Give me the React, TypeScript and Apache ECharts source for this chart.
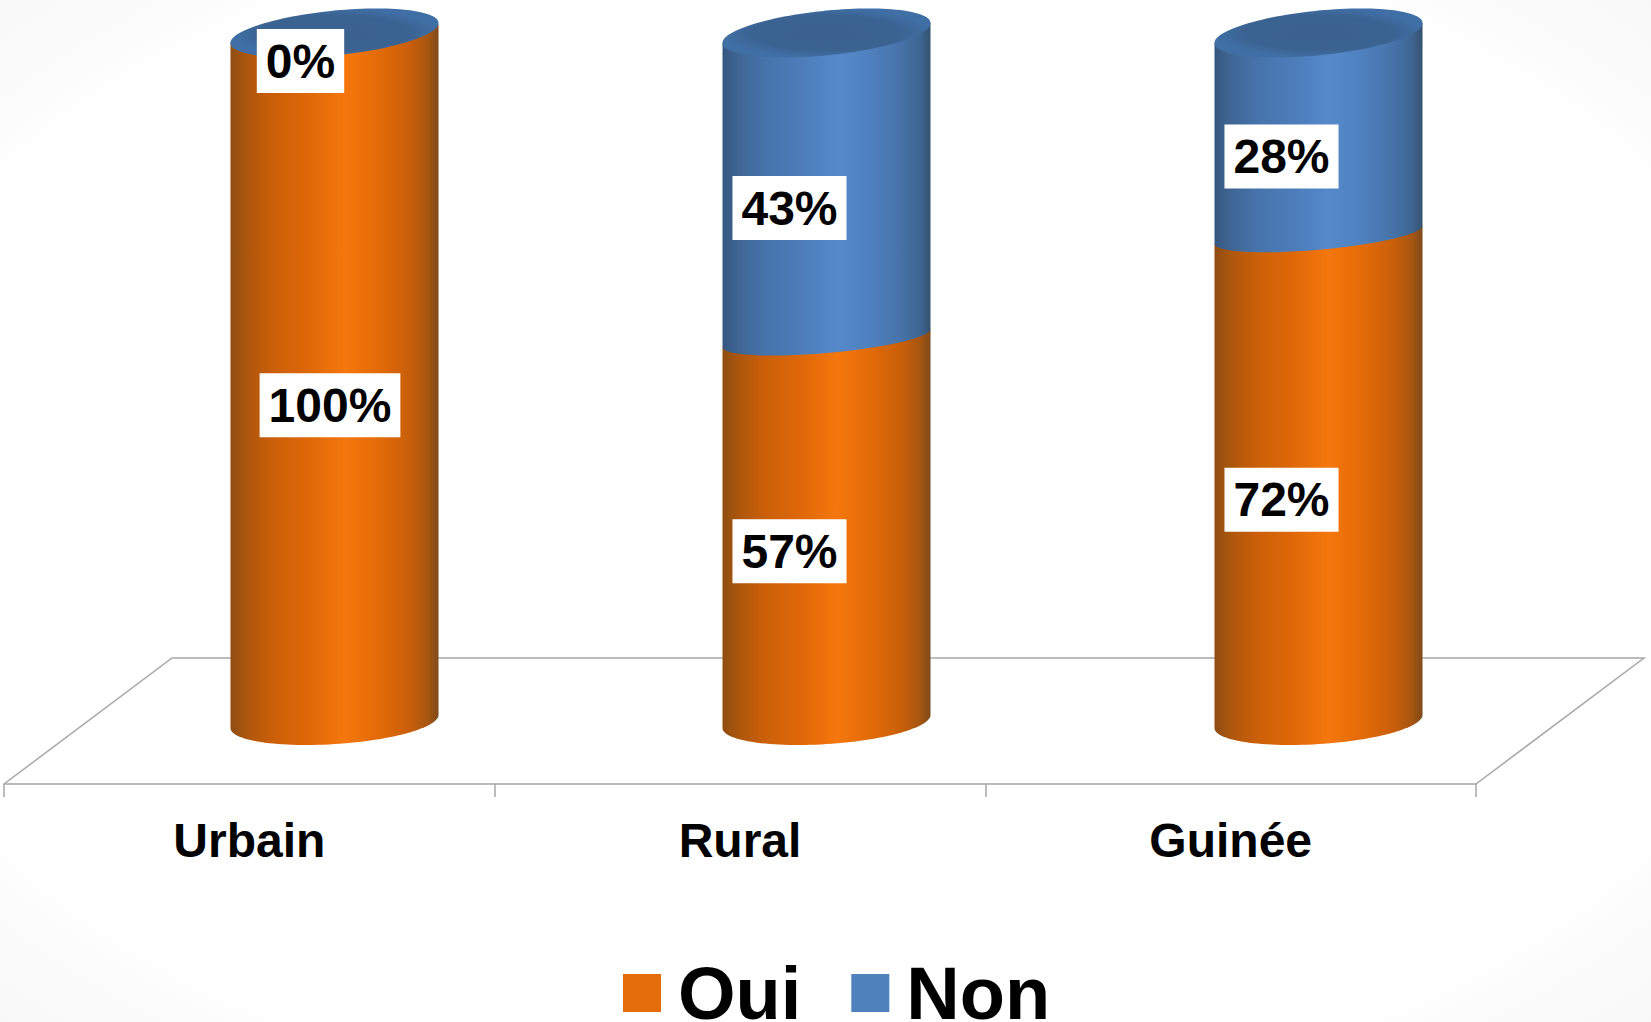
import React, { useEffect, useRef } from "react";
import * as echarts from "echarts";

const categories = ["Urbain", "Rural", "Guinée"];
const ouiValues = [100, 57, 72];
const nonValues = [0, 43, 28];
const seriesNames = ["Oui", "Non"];

const FONT = '"Liberation Sans", Arial, sans-serif';
const HALF_WIDTH = 104;
const SPLIT_DROP = 9;
const SPLIT_B = 15;
const labelShiftOui = [-4.5, -37, -37];
const labelDropOui = [28, 26, 26];
const labelShiftNon = [-34, -37, -37];
const labelDropNon = [28, 27, 27];

const orangeStops = [
  [0, "#8f4d12"], [0.08, "#ad560c"], [0.2, "#cb5f09"], [0.38, "#df6808"],
  [0.55, "#f5770d"], [0.72, "#e26a08"], [0.86, "#c95f0a"], [0.95, "#a65610"], [1, "#7f4a1c"],
];
const blueStops = [
  [0, "#35577f"], [0.08, "#3f6695"], [0.2, "#4673aa"], [0.38, "#4c7dba"],
  [0.55, "#5589ca"], [0.72, "#4e80be"], [0.86, "#4672a8"], [0.95, "#3e6592"], [1, "#33536f"],
];
const grad = (stops: any[]) =>
  new echarts.graphic.LinearGradient(0, 0, 1, 0, stops.map(([offset, color]) => ({ offset, color })));

const ellipsePoint = (cx: number, cy: number, b: number, k: number, t: number) => [
  cx + HALF_WIDTH * Math.cos(t),
  cy + b * Math.sin(t) - k * Math.cos(t),
];
// front half of a sheared ellipse, from right (t=0) to left (t=PI)
const frontArc = (cx: number, cy: number, b: number, k: number) => {
  const pts: number[][] = [];
  for (let i = 0; i <= 60; i++) pts.push(ellipsePoint(cx, cy, b, k, (Math.PI * i) / 60));
  return pts;
};
const fullEllipse = (cx: number, cy: number, b: number, k: number) => {
  const pts: number[][] = [];
  for (let i = 0; i < 120; i++) pts.push(ellipsePoint(cx, cy, b, k, (2 * Math.PI * i) / 120));
  return pts;
};

const labelText = (text: string, x: number, y: number) => ({
  type: "text",
  z2: 50,
  style: {
    text, x, y,
    align: "center",
    verticalAlign: "middle",
    font: `bold 48px ${FONT}`,
    lineHeight: 46,
    fill: "#000",
    backgroundColor: "#fff",
    padding: [9, 9, 9, 9],
  },
});

const renderOui = (params: any, api: any) => {
  const i = api.value(0);
  const v = api.value(1);
  const [cx, y0] = api.coord([i, 0]);
  const [, yv] = api.coord([i, v]);
  const yMid = api.coord([i, v / 2])[1];
  const top = v < 100 ? yv + SPLIT_DROP : yv;
  const bottomArc = frontArc(cx, y0, 22.6, 6.5).reverse(); // left to right
  const points = [
    ...bottomArc,
    [cx + HALF_WIDTH, top - 9],
    [cx - HALF_WIDTH, top + 9],
  ];
  return {
    type: "group",
    children: [
      { type: "polygon", shape: { points }, style: { fill: grad(orangeStops) } },
      labelText(`${v}%`, cx + labelShiftOui[i], yMid + labelDropOui[i]),
    ],
  };
};

const renderNon = (params: any, api: any) => {
  const i = api.value(0);
  const v = api.value(1);
  const base = ouiValues[i];
  const [cx, yb] = api.coord([i, base]);
  const [, yt] = api.coord([i, base + v]);
  const yMid = api.coord([i, base + v / 2])[1];
  const children: any[] = [];
  if (v > 0) {
    const split = yb + SPLIT_DROP;
    const points = [
      [cx + HALF_WIDTH, yt - 10],
      ...frontArc(cx, split, SPLIT_B, 9),
      [cx - HALF_WIDTH, yt + 10],
    ];
    children.push({ type: "polygon", shape: { points }, style: { fill: grad(blueStops) } });
  }
  children.push({
    type: "polygon",
    shape: { points: fullEllipse(cx, yt, 22.4, 10) },
    style: {
      fill: new echarts.graphic.RadialGradient(0.5, 0.5, 0.5, [
        { offset: 0, color: "#3a618f" },
        { offset: 0.72, color: "#3b6392" },
        { offset: 1, color: "#406fa6" },
      ]),
    },
  });
  children.push(labelText(`${v}%`, cx + labelShiftNon[i], yMid + labelDropNon[i]));
  return { type: "group", children };
};

export default function App() {
  const ref = useRef<HTMLDivElement>(null);
  useEffect(() => {
    document.body.style.margin = "0";
    const chart = echarts.init(ref.current!, undefined, { renderer: "svg" });
    chart.setOption({
      animation: false,
      backgroundColor: {
        type: "radial", x: 0.5, y: 0.5, r: 0.95,
        colorStops: [
          { offset: 0, color: "#ffffff" },
          { offset: 0.6, color: "#ffffff" },
          { offset: 1, color: "#ececec" },
        ],
      },
      legend: {
        data: seriesNames,
        left: 623,
        top: 953.5,
        icon: "rect",
        itemWidth: 38,
        itemHeight: 38,
        itemGap: 50,
        padding: 0,
        selectedMode: false,
        textStyle: {
          fontFamily: FONT, fontWeight: "bold", fontSize: 74, color: "#000",
          lineHeight: 54, padding: [0, 0, 25, 12],
        },
      },
      grid: [
        { left: 4, width: 1472, top: 100, height: 684 },
        { left: 88.5, width: 1476, top: 33, height: 688.5 },
      ],
      xAxis: [
        {
          gridIndex: 0, type: "category", data: categories, boundaryGap: true,
          axisLine: { show: true, lineStyle: { color: "#a6a6a6", width: 1.5 } },
          axisTick: { show: true, length: 13, alignWithLabel: false, lineStyle: { color: "#a6a6a6", width: 1.5 } },
          axisLabel: { margin: 32, fontFamily: FONT, fontWeight: "bold", fontSize: 48, color: "#000" },
        },
        { gridIndex: 1, type: "category", data: categories, show: false },
      ],
      yAxis: [
        { gridIndex: 0, type: "value", min: 0, max: 100, show: false },
        { gridIndex: 1, type: "value", min: 0, max: 100, show: false },
      ],
      graphic: {
        elements: [
          {
            type: "polyline", z: -1, silent: true,
            shape: { points: [[4, 784], [172, 658], [1644, 658], [1476, 784]] },
            style: { stroke: "#a6a6a6", lineWidth: 1.5, fill: "none" },
          },
        ],
      },
      series: [
        {
          name: "Oui", type: "custom", coordinateSystem: "cartesian2d",
          xAxisIndex: 1, yAxisIndex: 1,
          itemStyle: { color: "#e46c0a" }, z: 3, clip: false,
          renderItem: renderOui,
          encode: { x: 0, y: 1 },
          data: ouiValues.map((v, i) => [i, v]),
        },
        {
          name: "Non", type: "custom", coordinateSystem: "cartesian2d",
          xAxisIndex: 1, yAxisIndex: 1,
          itemStyle: { color: "#4f81bd" }, z: 4, clip: false,
          renderItem: renderNon,
          encode: { x: 0, y: 1 },
          data: nonValues.map((v, i) => [i, v]),
        },
      ],
    });
    return () => chart.dispose();
  }, []);
  return <div ref={ref} style={{ width: 1651, height: 1022 }} />;
}
